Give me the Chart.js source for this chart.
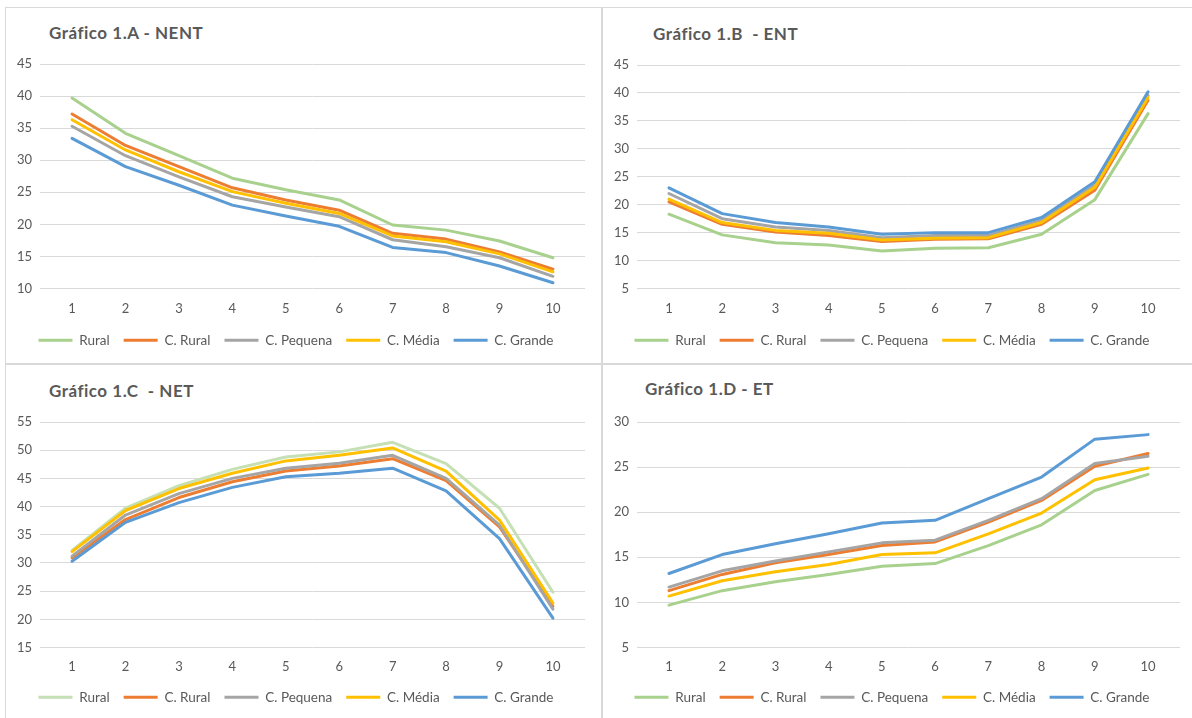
<!DOCTYPE html>
<html>
<head>
<meta charset="utf-8">
<script src="https://cdn.jsdelivr.net/npm/chart.js@4.4.1/dist/chart.umd.min.js"></script>
<style>
  html, body { margin: 0; padding: 0; background: #ffffff; }
  #page { position: relative; width: 1192px; height: 718px; overflow: hidden; font-family: Lato, "Open Sans", sans-serif; }
  .line { position: absolute; background: #d9d9d9; }
  .box { position: absolute; }
  .title { position: absolute; font-weight: bold; font-size: 17px; letter-spacing: 0.5px; color: #595959; white-space: pre; line-height: 20px; }
</style>
</head>
<body>
<div id="page">
  <!-- panel borders -->
  <div class="line" style="left:5px; top:7px; width:1187px; height:1px;"></div>
  <div class="line" style="left:5px; top:7px; width:1px; height:711px;"></div>
  <div class="line" style="left:601px; top:7px; width:2px; height:711px;"></div>
  <div class="line" style="left:5px; top:363px; width:1187px; height:2px;"></div>

  <div class="title" style="left:49px; top:23px;">Gráfico 1.A - NENT</div>
  <div class="title" style="left:653px; top:24px;">Gráfico 1.B  - ENT</div>
  <div class="title" style="left:49px; top:381px;">Gráfico 1.C  - NET</div>
  <div class="title" style="left:645px; top:379px;">Gráfico 1.D - ET</div>

  <div class="box" style="left:7px; top:9px; width:594px; height:354px;"><canvas id="chartA"></canvas></div>
  <div class="box" style="left:604px; top:9px; width:588px; height:354px;"><canvas id="chartB"></canvas></div>
  <div class="box" style="left:7px; top:365px; width:594px; height:353px;"><canvas id="chartC"></canvas></div>
  <div class="box" style="left:604px; top:365px; width:588px; height:353px;"><canvas id="chartD"></canvas></div>
</div>

<script>
// deciles on the x axis
const deciles = ['1', '2', '3', '4', '5', '6', '7', '8', '9', '10'];
const seriesNames = ['Rural', 'C. Rural', 'C. Pequena', 'C. Média', 'C. Grande'];
const seriesColors = ['#a9d18e', '#ed7d31', '#a5a5a5', '#ffc000', '#5b9bd5'];
const seriesColorsC = ['#c5e0b4', '#ed7d31', '#a5a5a5', '#ffc000', '#5b9bd5'];

// Gráfico 1.A - NENT
const nentRural    = [39.7, 34.2, 30.7, 27.2, 25.4, 23.8, 19.9, 19.1, 17.4, 14.8];
const nentCRural   = [37.2, 32.3, 29.0, 25.7, 23.8, 22.2, 18.6, 17.7, 15.7, 13.0];
const nentCPequena = [35.3, 30.7, 27.4, 24.3, 22.7, 21.2, 17.6, 16.5, 14.8, 11.9];
const nentCMedia   = [36.3, 31.6, 28.2, 25.1, 23.3, 21.7, 18.2, 17.3, 15.4, 12.6];
const nentCGrande  = [33.4, 29.0, 26.1, 23.0, 21.3, 19.7, 16.4, 15.6, 13.5, 10.9];

// Gráfico 1.B - ENT
const entRural    = [18.3, 14.6, 13.2, 12.8, 11.7, 12.2, 12.3, 14.7, 20.9, 36.3];
const entCRural   = [20.5, 16.5, 15.1, 14.5, 13.4, 13.8, 13.9, 16.5, 22.6, 38.7];
const entCPequena = [22.0, 17.5, 16.0, 15.4, 14.1, 14.5, 14.5, 17.2, 23.5, 39.6];
const entCMedia   = [21.0, 16.8, 15.4, 14.9, 13.7, 14.0, 14.1, 16.8, 23.1, 39.2];
const entCGrande  = [23.0, 18.4, 16.8, 16.0, 14.7, 15.0, 15.0, 17.7, 24.1, 40.2];

// Gráfico 1.C - NET
const netRural    = [32.2, 39.7, 43.7, 46.6, 48.8, 49.7, 51.4, 47.6, 39.7, 24.8];
const netCRural   = [30.9, 37.7, 41.6, 44.4, 46.3, 47.2, 48.5, 44.6, 36.4, 22.3];
const netCPequena = [31.2, 38.5, 42.3, 45.0, 46.8, 47.7, 49.1, 45.0, 36.7, 21.8];
const netCMedia   = [32.0, 39.3, 43.2, 45.9, 48.1, 49.1, 50.4, 46.3, 37.6, 22.9];
const netCGrande  = [30.3, 37.2, 40.7, 43.4, 45.3, 45.9, 46.8, 42.8, 34.3, 20.2];

// Gráfico 1.D - ET
const etRural    = [9.7, 11.3, 12.3, 13.1, 14.0, 14.3, 16.3, 18.6, 22.4, 24.2];
const etCRural   = [11.3, 13.1, 14.4, 15.3, 16.3, 16.7, 18.9, 21.3, 25.1, 26.5];
const etCPequena = [11.7, 13.5, 14.6, 15.6, 16.6, 16.9, 19.1, 21.5, 25.4, 26.2];
const etCMedia   = [10.7, 12.4, 13.4, 14.2, 15.3, 15.5, 17.6, 19.9, 23.6, 24.9];
const etCGrande  = [13.2, 15.3, 16.5, 17.6, 18.8, 19.1, 21.5, 23.9, 28.1, 28.6];

// y axis ranges
const yMinA = 10, yMaxA = 45;
const yMinB = 5,  yMaxB = 45;
const yMinC = 15, yMaxC = 55;
const yMinD = 5,  yMaxD = 30;

const textColor = '#595959';
const gridColor = '#d9d9d9';

function buildDatasets(series, colors) {
  return series.map(function (values, i) {
    return {
      label: seriesNames[i],
      data: values.map(function (v, j) { return { x: Number(deciles[j]), y: v }; }),
      borderColor: colors[i],
      backgroundColor: colors[i],
      borderWidth: 3,
      pointRadius: 0,
      pointHoverRadius: 0,
      tension: 0,
      fill: false,
      borderJoinStyle: 'round',
      borderCapStyle: 'round',
      order: series.length - i   // later series on top, like Excel
    };
  });
}

function makeChart(id, series, colors, yMin, yMax, pad) {
  const ctx = document.getElementById(id);
  return new Chart(ctx, {
    type: 'line',
    data: {
      datasets: buildDatasets(series, colors)
    },
    options: {
      responsive: true,
      maintainAspectRatio: false,
      animation: false,
      layout: {
        padding: { left: 0, right: pad.right, top: pad.top, bottom: pad.bottom }
      },
      scales: {
        x: {
          type: 'linear',
          min: 0.4,
          max: 10.6,
          grid: { display: false },
          border: { display: false },
          ticks: {
            color: textColor,
            padding: pad.tick,
            maxRotation: 0,
            font: { family: 'Lato', size: 13 }
          },
          afterBuildTicks: function (scale) {
            scale.ticks = deciles.map(function (d) { return { value: Number(d) }; });
          },
          afterFit: function (scale) { scale.height = pad.xAxis; }
        },
        y: {
          min: yMin,
          max: yMax,
          grid: { color: gridColor, lineWidth: 1, drawTicks: false },
          border: { display: false },
          ticks: {
            stepSize: 5,
            color: textColor,
            padding: 8,
            font: { family: 'Lato', size: 13 }
          },
          afterFit: function (scale) { scale.width = 33; }
        }
      },
      plugins: {
        title: { display: false },
        tooltip: { enabled: false },
        legend: {
          position: 'bottom',
          labels: {
            usePointStyle: true,
            pointStyle: 'line',
            pointStyleWidth: 34,
            color: textColor,
            padding: 14,
            font: { family: 'Lato', size: 13.5 },
            sort: function (a, b) { return a.datasetIndex - b.datasetIndex; }
          }
        }
      }
    }
  });
}

makeChart('chartA', [nentRural, nentCRural, nentCPequena, nentCMedia, nentCGrande],
  seriesColors, yMinA, yMaxA, { top: 55, right: 16, bottom: 6, xAxis: 31, tick: 5 });
makeChart('chartB', [entRural, entCRural, entCPequena, entCMedia, entCGrande],
  seriesColors, yMinB, yMaxB, { top: 56, right: 12, bottom: 6, xAxis: 31, tick: 5 });
makeChart('chartC', [netRural, netCRural, netCPequena, netCMedia, netCGrande],
  seriesColorsC, yMinC, yMaxC, { top: 57, right: 16, bottom: 4, xAxis: 29, tick: 4 });
makeChart('chartD', [etRural, etCRural, etCPequena, etCMedia, etCGrande],
  seriesColors, yMinD, yMaxD, { top: 57, right: 12, bottom: 4, xAxis: 29, tick: 4 });
</script>
</body>
</html>
